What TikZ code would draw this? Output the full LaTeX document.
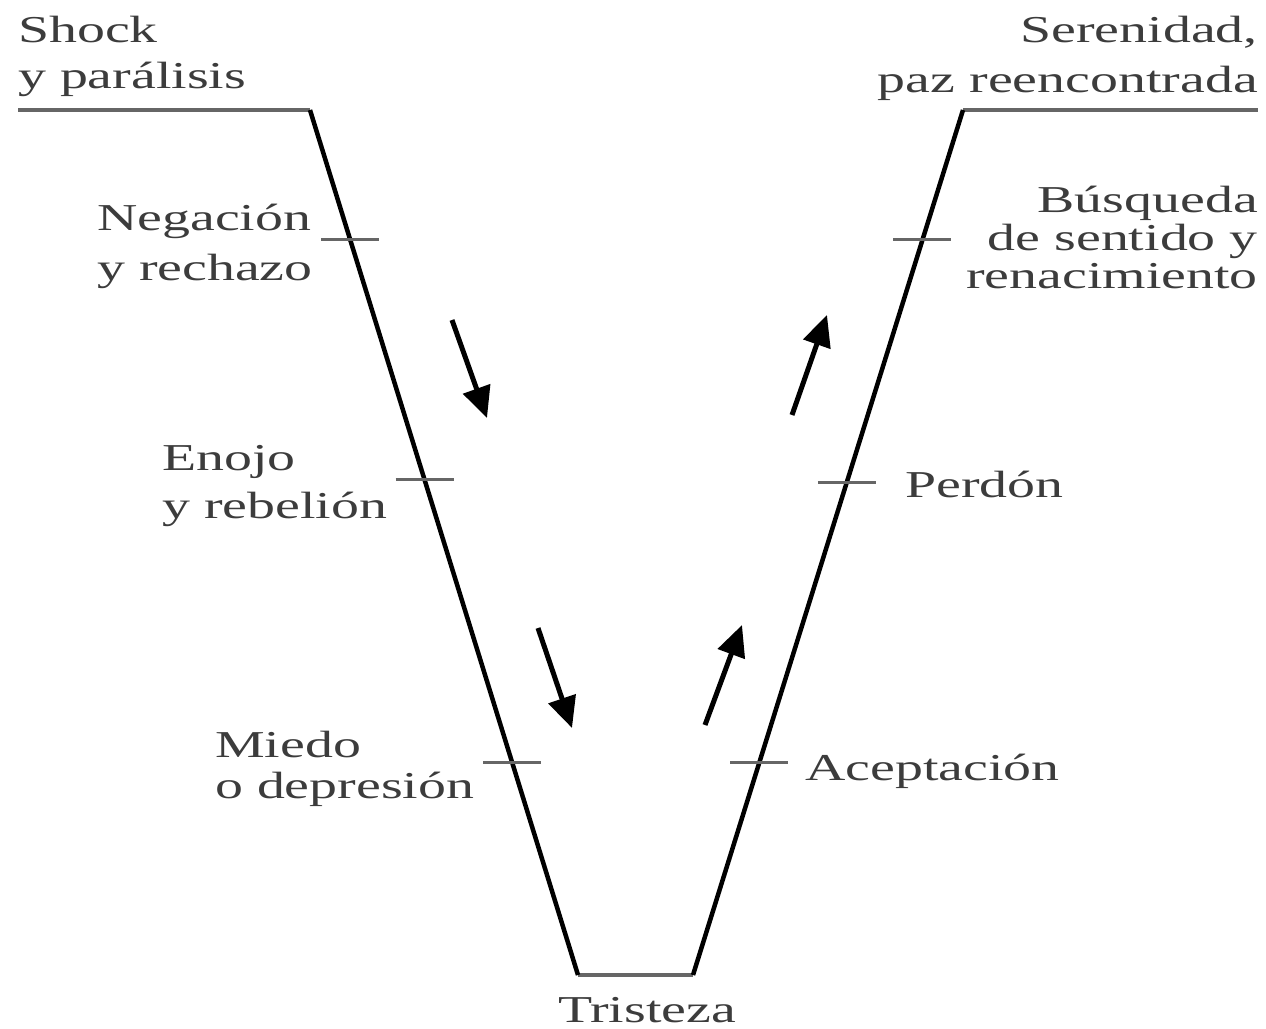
\documentclass[tikz,border=0pt]{standalone}
\usepackage{fontspec}
\usetikzlibrary{arrows.meta,calc}
\newfontfamily\labfont[FakeStretch=1.47]{Liberation Serif}
\definecolor{inkgray}{HTML}{3C3C3C}
\definecolor{linegray}{HTML}{666666}
\begin{document}
\begin{tikzpicture}[x=1pt,y=-1pt,
  lab/.style={font=\labfont\fontsize{38}{#1}\selectfont, text=inkgray, inner sep=0pt},
  lab/.default=46,
  slope/.style={line width=4.5pt, black, line join=miter},
  flat/.style={line width=4pt, linegray},
  tick/.style={line width=3pt, linegray},
  trend/.style={line width=5pt, black, -{Triangle[length=31pt,width=28pt]}}]
\useasboundingbox (0,0) rectangle (1266,1028);

% corners of the curve
\coordinate (tl) at (18,110);
\coordinate (a) at (310,110);
\coordinate (b) at (578,975);
\coordinate (c) at (693,975);
\coordinate (d) at (963,110);
\coordinate (tr) at (1258,110);

\draw[flat] (tl) -- (a);
\draw[flat] (d) -- (tr);
\draw[flat] (b) -- (c);
\draw[slope] (a) -- (b);
\draw[slope] (c) -- (d);

% stage ticks on the descending branch
\foreach \n/\yy in {n1/240,n2/480,n3/762}{
  \coordinate (\n) at ($(a)!{(\yy-110)/865}!(b)$);
  \draw[tick] ([xshift=-29pt]\n) -- ([xshift=29pt]\n);
}
% stage ticks on the ascending branch
\foreach \n/\yy in {m1/240,m2/482,m3/762}{
  \coordinate (\n) at ($(d)!{(\yy-110)/865}!(c)$);
  \draw[tick] ([xshift=-29pt]\n) -- ([xshift=29pt]\n);
}

% direction arrows
\coordinate (p1s) at (452,320); \coordinate (p1e) at (487,418);
\coordinate (p2s) at (538,628); \coordinate (p2e) at (572,728);
\coordinate (q1s) at (705,725); \coordinate (q1e) at (742,625);
\coordinate (q2s) at (792,415); \coordinate (q2e) at (827,315);
\draw[trend] (p1s) -- (p1e);
\draw[trend] (p2s) -- (p2e);
\draw[trend] (q1s) -- (q1e);
\draw[trend] (q2s) -- (q2e);

% stage labels (anchored at the baseline of their last line)
\node[lab=46, anchor=base west, align=left] (shock) at (18,88) {Shock\\y parálisis};
\node[lab=50, anchor=base east, align=right] (seren) at (1258,92) {Serenidad,\\paz reencontrada};
\node[lab=50, anchor=base west, align=left] (neg) at (97,280) {Negación\\y rechazo};
\node[lab=48, anchor=base west, align=left] (eno) at (162,518) {Enojo\\y rebelión};
\node[lab=41, anchor=base west, align=left] (mie) at (215,798) {Miedo\\o depresión};
\node[lab=38, anchor=base east, align=right] (bus) at (1258,288) {Búsqueda\\de sentido y\\renacimiento};
\node[lab, anchor=base west] (per) at (905,497) {Perdón};
\node[lab, anchor=base west] (ace) at (805,780) {Aceptación};
\node[lab, anchor=base] (tri) at (647,1022) {Tristeza};
\end{tikzpicture}
\end{document}
